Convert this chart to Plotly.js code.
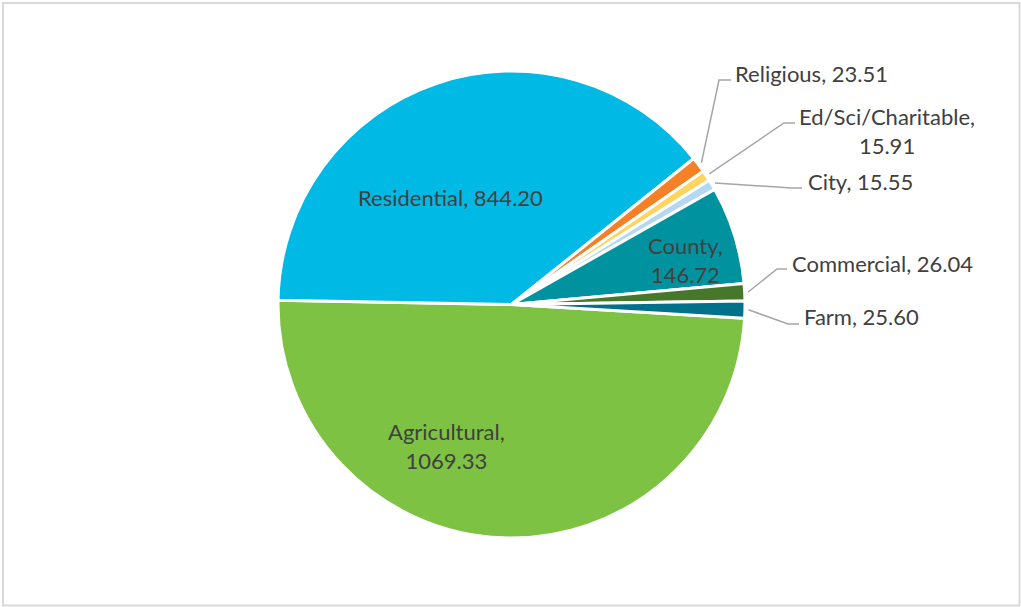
<!DOCTYPE html>
<html>
<head>
<meta charset="utf-8">
<script src="https://cdn.plot.ly/plotly-3.0.1.min.js"></script>
<style>
  html, body { margin: 0; padding: 0; background: #ffffff; }
  #chart { width: 1021px; height: 607px; }
</style>
</head>
<body>
<div id="chart"></div>
<script>
// ---- data ----
const categories = ['Agricultural', 'Residential', 'Religious', 'Ed/Sci/Charitable', 'City', 'County', 'Commercial', 'Farm'];
const values = [1069.33, 844.20, 23.51, 15.91, 15.55, 146.72, 26.04, 25.60];
const colors = ['#7DC242', '#00B9E4', '#F58025', '#FFD55F', '#B4D8F2', '#00939F', '#47772A', '#00718A'];

// ---- layout constants (pixels) ----
const W = 1021, H = 607;
const M = { l: 278, r: 276, t: 71, b: 69 };
const PW = W - M.l - M.r, PH = H - M.t - M.b;
const ROT = 93.4;
const FONT = 'Lato, "Open Sans", sans-serif';
const TEXT_COLOR = '#404040';
const FS = 22;

// label placement per category: inside labels (center) or outside labels with leader
const labelCfg = {
  'Agricultural':      { mode: 'in',  x: 446.5, y: 446, br: true },
  'Residential':       { mode: 'in',  x: 450,   y: 197, br: false },
  'County':            { mode: 'in',  x: 685,   y: 260, br: true },
  'Religious':         { mode: 'out', x: 733, y: 73,  anchor: 'left',   br: false, elbow: [719, 80],  end: [731, 80] },
  'Ed/Sci/Charitable': { mode: 'out', x: 887, y: 131, anchor: 'center', br: true,  elbow: [784, 123], end: [795, 123] },
  'City':              { mode: 'out', x: 806, y: 181, anchor: 'left',   br: false, elbow: [792, 188], end: [802, 188] },
  'Commercial':        { mode: 'out', x: 790, y: 263, anchor: 'left',   br: false, elbow: [777, 269], end: [787, 269] },
  'Farm':              { mode: 'out', x: 802, y: 316, anchor: 'left',   br: false, elbow: [788, 324], end: [799, 324] }
};

function px(x) { return (x - M.l) / PW; }
function py(y) { return (H - M.b - y) / PH; }

const total = values.reduce((a, b) => a + b, 0);
const annotations = [];
const shapes = [];

let acc = 0;
values.forEach((v, i) => {
  const mid = (ROT + (acc + v / 2) / total * 360) * Math.PI / 180;
  acc += v;
  const name = categories[i];
  const cfg = labelCfg[name];
  const txt = name + ',' + (cfg.br ? '<br>' : ' ') + v.toFixed(2);
  if (cfg.mode === 'in') {
    annotations.push({
      xref: 'paper', yref: 'paper', x: px(cfg.x), y: py(cfg.y),
      xanchor: 'center', yanchor: 'middle', text: txt, showarrow: false,
      font: { family: FONT, size: FS, color: TEXT_COLOR }, align: 'center'
    });
  } else {
    annotations.push({
      xref: 'paper', yref: 'paper', x: px(cfg.x), y: py(cfg.y),
      xanchor: cfg.anchor, yanchor: 'middle', text: txt, showarrow: false,
      font: { family: FONT, size: FS, color: TEXT_COLOR }, align: 'center'
    });
    // leader line: from slice edge (from data) to elbow then horizontal
    const k = 1.015;
    const sx = 0.5 + 0.5 * k * Math.sin(mid);
    const sy = 0.5 + 0.5 * k * Math.cos(mid);
    shapes.push({
      type: 'path', xref: 'paper', yref: 'paper',
      path: 'M ' + sx + ' ' + sy + ' L ' + px(cfg.elbow[0]) + ' ' + py(cfg.elbow[1]) +
            ' L ' + px(cfg.end[0]) + ' ' + py(cfg.end[1]),
      line: { color: '#A6A6A6', width: 1.5 }
    });
  }
});

// outer border of the chart area
shapes.push({
  type: 'rect', xref: 'paper', yref: 'paper',
  x0: px(3), x1: px(1019.5), y0: py(605.5), y1: py(3),
  line: { color: '#D9D9D9', width: 2 }, layer: 'below'
});

const trace = {
  type: 'pie',
  labels: categories,
  values: values,
  sort: false,
  direction: 'clockwise',
  rotation: ROT,
  marker: { colors: colors, line: { color: '#FFFFFF', width: 3 } },
  textinfo: 'none',
  hoverinfo: 'skip',
  showlegend: false,
  domain: { x: [0, 1], y: [0, 1] }
};

const layout = {
  width: W, height: H,
  margin: M,
  paper_bgcolor: '#FFFFFF',
  plot_bgcolor: '#FFFFFF',
  showlegend: false,
  annotations: annotations,
  shapes: shapes
};

Plotly.newPlot('chart', [trace], layout, { displayModeBar: false, staticPlot: true });
</script>
</body>
</html>
